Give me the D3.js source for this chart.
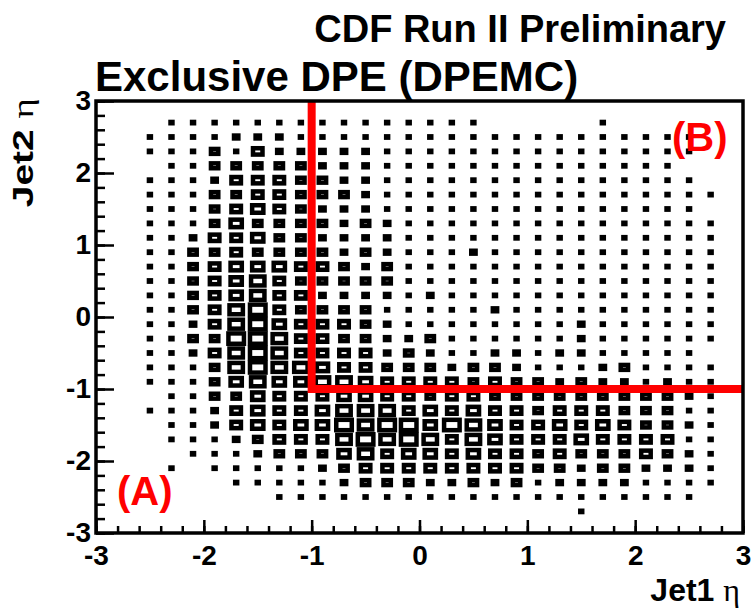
<!DOCTYPE html>
<html lang="en">
<head>
<meta charset="UTF-8">
<title>Exclusive DPE (DPEMC)</title>
<style>
  body { margin: 0; background: #fff; }
  svg { display: block; font-family: "Liberation Sans", Arial, sans-serif; }
  .label { font-weight: bold; fill: #000; }
  .tag { font-weight: bold; fill: #ff0000; font-size: 40px; }
</style>
</head>
<body>
<svg id="chart" width="754" height="615"></svg>
<script src="https://d3js.org/d3.v7.min.js"></script>
<script>
// bin centres (30 x 30 bins from -3 to 3)
const jet1Bins = [-2.9, -2.7, -2.5, -2.3, -2.1, -1.9, -1.7, -1.5, -1.3, -1.1,
                  -0.9, -0.7, -0.5, -0.3, -0.1, 0.1, 0.3, 0.5, 0.7, 0.9,
                  1.1, 1.3, 1.5, 1.7, 1.9, 2.1, 2.3, 2.5, 2.7, 2.9];
const jet2Bins = [2.9, 2.7, 2.5, 2.3, 2.1, 1.9, 1.7, 1.5, 1.3, 1.1,
                  0.9, 0.7, 0.5, 0.3, 0.1, -0.1, -0.3, -0.5, -0.7, -0.9,
                  -1.1, -1.3, -1.5, -1.7, -1.9, -2.1, -2.3, -2.5, -2.7, -2.9];

// bin contents, one row per jet2 bin (top to bottom), columns follow jet1Bins
const counts = [
  [0,0,0,0,0,0,0,0,0,0, 0,0,0,0,0,0,0,0,0,0, 0,0,0,0,0,0,0,0,0,0],
  [0,0,0,9,9,9,9,9,9,9, 9,9,9,9,9,9,9,9,0,0, 0,0,0,9,0,0,0,0,0,0],
  [0,0,9,9,9,9,20,20,20,9, 9,9,9,9,9,9,9,9,9,9, 9,9,9,9,9,9,9,9,0,0],
  [0,0,9,9,9,34,9,44,20,20, 20,20,20,9,9,9,9,9,9,9, 9,9,9,9,9,9,9,9,0,0],
  [0,0,0,9,9,34,34,34,34,34, 20,20,20,9,9,9,9,9,9,9, 9,9,9,9,9,9,9,0,0,0],
  [0,0,9,9,9,20,44,44,44,34, 34,20,20,9,9,9,9,9,9,9, 9,9,9,9,9,9,9,9,0,0],
  [0,0,9,9,9,34,34,44,44,34, 34,34,20,9,9,9,9,9,9,9, 9,9,9,9,9,9,9,9,9,0],
  [0,0,9,9,9,34,44,52,44,34, 20,20,20,9,9,9,9,9,9,9, 9,9,9,9,9,9,9,9,0,0],
  [0,0,9,9,9,34,52,34,34,34, 34,20,34,20,9,9,9,9,9,9, 9,9,9,9,9,9,9,9,9,0],
  [0,0,9,9,20,44,44,52,34,34, 20,20,20,20,9,9,9,9,9,9, 9,9,9,9,9,9,9,9,9,0],
  [0,0,9,9,34,34,44,34,34,34, 34,20,34,20,9,9,9,20,9,9, 9,9,9,9,9,9,9,9,9,0],
  [0,0,9,9,34,44,52,52,52,44, 44,34,20,34,9,9,9,9,9,9, 9,9,9,9,9,9,9,9,9,0],
  [0,0,9,9,34,44,52,62,44,34, 34,34,34,34,9,9,9,9,9,9, 9,9,9,9,9,9,9,9,9,0],
  [0,0,9,9,34,44,52,62,44,44, 20,20,20,20,9,20,9,9,9,9, 9,9,9,9,9,9,9,9,9,0],
  [0,0,9,9,34,44,62,72,44,34, 34,34,34,9,9,9,9,9,20,9, 9,9,9,9,9,9,9,9,9,0],
  [0,0,9,9,20,44,62,72,52,44, 44,44,34,20,9,9,9,9,9,9, 9,9,20,9,9,9,9,9,9,0],
  [0,0,9,9,34,34,72,72,62,44, 44,34,34,20,20,34,9,9,9,9, 9,9,20,9,9,9,9,9,9,0],
  [0,0,9,9,20,44,62,72,62,44, 44,44,44,20,34,20,9,9,20,20, 9,20,20,9,9,9,9,9,0,0],
  [0,0,9,9,9,34,62,72,62,62, 52,44,44,34,34,34,20,34,34,20, 9,9,9,20,34,9,9,9,9,0],
  [0,0,9,9,9,34,52,62,52,52, 62,62,52,44,44,44,44,34,44,34, 34,20,34,20,20,9,20,9,9,0],
  [0,0,0,9,9,34,34,52,44,44, 44,52,52,44,44,34,44,44,34,34, 34,34,34,34,34,34,34,20,9,0],
  [0,0,9,9,9,20,44,52,44,44, 52,62,62,62,44,52,44,52,44,44, 34,44,44,44,34,34,34,9,9,0],
  [0,0,0,9,9,20,44,52,44,52, 52,72,62,72,72,52,72,62,52,44, 44,52,44,52,44,34,34,20,9,0],
  [0,0,0,9,9,9,20,34,44,44, 44,62,72,62,72,62,44,62,52,44, 44,44,52,44,44,44,44,9,9,0],
  [0,0,0,0,9,9,9,20,34,34, 34,52,62,44,52,52,44,52,44,44, 34,44,34,34,34,44,34,20,9,0],
  [0,0,0,9,0,9,9,9,9,9, 20,34,44,44,44,44,44,44,44,44, 34,34,20,34,34,20,20,20,9,0],
  [0,0,0,0,0,0,9,9,9,9, 9,20,34,34,34,20,20,34,20,34, 9,20,20,20,20,9,9,9,9,0],
  [0,0,0,0,0,0,0,0,9,9, 9,9,9,9,9,9,9,9,9,9, 9,9,9,9,9,9,9,9,0,0],
  [0,0,0,0,0,0,0,0,0,0, 0,0,0,0,0,0,0,0,0,0, 0,0,9,0,0,0,0,0,0,0],
  [0,0,0,0,0,0,0,0,0,0, 0,0,0,0,0,0,0,0,0,0, 0,0,0,0,0,0,0,0,0,0]
];

const tickValues = [-3, -2, -1, 0, 1, 2, 3];
const cutEta = -1;   // region (B) boundary

const frame = { left: 96, right: 743, top: 101, bottom: 533 };

const svg = d3.select("#chart");

const x = d3.scaleLinear().domain([-3, 3]).range([frame.left, frame.right]);
const y = d3.scaleLinear().domain([-3, 3]).range([frame.bottom, frame.top]);
const binW = x(0.2) - x(0);
const binH = y(0) - y(0.2);
// box side as fraction of the bin size
const boxFrac = d3.scaleLinear().domain([0, 100]).range([0, 1]);

const cells = [];
counts.forEach((row, i) => row.forEach((c, j) => {
  if (c > 0) cells.push({ ex: jet1Bins[j], ey: jet2Bins[i], c: c });
}));

// boxes
svg.append("g")
  .selectAll("rect")
  .data(cells)
  .join("rect")
  .attr("x", d => x(d.ex) - boxFrac(d.c) * binW / 2)
  .attr("y", d => y(d.ey) - boxFrac(d.c) * binH / 2)
  .attr("width", d => boxFrac(d.c) * binW)
  .attr("height", d => boxFrac(d.c) * binH)
  .attr("fill", "#fff")
  .attr("stroke", "#000")
  .attr("stroke-width", 4.5);

// region cut lines
svg.append("path")
  .attr("d", d3.line()([[x(cutEta), y(3)], [x(cutEta), y(cutEta)], [x(3), y(cutEta)]]))
  .attr("fill", "none")
  .attr("stroke", "#ff0000")
  .attr("stroke-width", 8);

// axes
const plainNum = d => String(d);   // ROOT uses a short hyphen for minus

function styleAxis(g) {
  g.select(".domain").remove();
  g.selectAll(".tick line").attr("stroke", "#000").attr("stroke-width", 2.5);
  g.attr("font-family", "Liberation Sans, Arial, sans-serif")
   .attr("font-size", 28)
   .attr("font-weight", "bold");
  g.selectAll("text").attr("fill", "#000");
}

svg.append("g")
  .attr("transform", `translate(0,${frame.bottom})`)
  .call(d3.axisBottom(x).tickValues(x.ticks(30)).tickSize(-7).tickFormat(""))
  .call(styleAxis);
svg.append("g")
  .attr("transform", `translate(0,${frame.bottom})`)
  .call(d3.axisBottom(x).tickValues(tickValues).tickSize(-13).tickPadding(12).tickFormat(plainNum))
  .call(styleAxis);

svg.append("g")
  .attr("transform", `translate(${frame.left},0)`)
  .call(d3.axisLeft(y).tickValues(y.ticks(30)).tickSize(-9).tickFormat(""))
  .call(styleAxis);
svg.append("g")
  .attr("transform", `translate(${frame.left},0)`)
  .call(d3.axisLeft(y).tickValues(tickValues).tickSize(-18).tickPadding(5).tickFormat(plainNum))
  .call(styleAxis);

// frame
svg.append("rect")
  .attr("x", frame.left)
  .attr("y", frame.top)
  .attr("width", frame.right - frame.left)
  .attr("height", frame.bottom - frame.top)
  .attr("fill", "none")
  .attr("stroke", "#000")
  .attr("stroke-width", 3.5);

// titles
svg.append("text")
  .attr("class", "label")
  .attr("x", 726).attr("y", 42)
  .attr("text-anchor", "end")
  .style("font-size", "38px")
  .text("CDF Run II Preliminary");

svg.append("text")
  .attr("class", "label")
  .attr("x", 95).attr("y", 91)
  .style("font-size", "42px")
  .text("Exclusive DPE (DPEMC)");

// axis titles
const xt = svg.append("text")
  .attr("class", "label")
  .attr("x", 740).attr("y", 601)
  .attr("text-anchor", "end")
  .style("font-size", "32px");
xt.append("tspan").text("Jet1 ");
xt.append("tspan").style("font-weight", "normal").style("font-family", "Liberation Serif, serif").text("η");

// the rotated title is drawn stretched along its length, as in the original
const yt = svg.append("text")
  .attr("class", "label")
  .attr("transform", "translate(33,98) rotate(-90) scale(1.3,1)")
  .attr("text-anchor", "end")
  .style("font-size", "30px");
yt.append("tspan").text("Jet2 ");
yt.append("tspan").style("font-weight", "normal").style("font-family", "Liberation Serif, serif").text("η");

// region tags
svg.append("text").attr("class", "tag").attr("x", 117).attr("y", 505).text("(A)");
svg.append("text").attr("class", "tag").attr("x", 672).attr("y", 151).text("(B)");
</script>
</body>
</html>
